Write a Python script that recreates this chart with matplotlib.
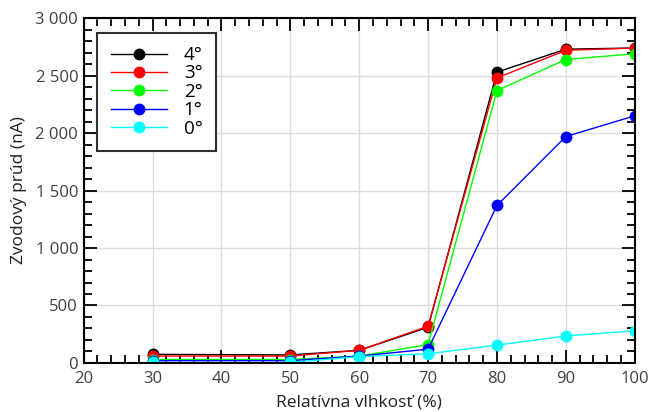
import matplotlib
matplotlib.use("Agg")
import matplotlib.pyplot as plt
from matplotlib.ticker import MultipleLocator, FuncFormatter

plt.rcParams["font.family"] = ["Open Sans", "DejaVu Sans"]

# Relative humidity (%)
humidity = [30, 50, 60, 70, 80, 90, 100]

# Leakage current (nA) per angle
angle_4 = [75, 70, 110, 310, 2530, 2730, 2740]
angle_3 = [60, 60, 110, 320, 2480, 2720, 2740]
angle_2 = [30, 30, 60, 160, 2370, 2640, 2690]
angle_1 = [20, 20, 60, 120, 1370, 1970, 2150]
angle_0 = [5, 5, 55, 80, 155, 235, 280]

series = [
    ("4°", angle_4, "black"),
    ("3°", angle_3, "red"),
    ("2°", angle_2, "#00ff00"),
    ("1°", angle_1, "blue"),
    ("0°", angle_0, "cyan"),
]

fig, ax = plt.subplots(figsize=(6.49, 4.12), dpi=100)

for label, values, color in series:
    ax.plot(humidity, values, color=color, marker="o", markersize=7.5,
            linewidth=1, label=label)

ax.set_xlim(20, 100)
ax.set_ylim(0, 3000)
ax.xaxis.set_major_locator(MultipleLocator(10))
ax.xaxis.set_minor_locator(MultipleLocator(2))
ax.yaxis.set_major_locator(MultipleLocator(500))
ax.yaxis.set_minor_locator(MultipleLocator(100))
ax.yaxis.set_major_formatter(FuncFormatter(lambda v, p: f"{int(v):,}".replace(",", " ")))

ax.tick_params(which="both", direction="in", top=True, right=True,
               labelsize=12, labelcolor="#404040", width=1.3)
ax.tick_params(which="major", length=9.5)
ax.tick_params(which="minor", length=5.5)
ax.tick_params(axis="x", pad=6)
ax.tick_params(axis="y", pad=4)
ax.grid(True, which="major", color="#dcdcdc", linewidth=1)
ax.set_axisbelow(True)
for s in ax.spines.values():
    s.set_linewidth(1.5)

ax.set_xlabel("Relatívna vlhkosť (%)", fontsize=12.5, color="#202020", labelpad=5)
ax.set_ylabel("Zvodový prúd (nA)", fontsize=12.5, color="#202020", labelpad=6)

leg = ax.legend(loc="upper left", fontsize=13.5, fancybox=False, edgecolor="#303030",
                framealpha=1, handlelength=3.0, borderpad=0.7, labelspacing=0.02,
                handletextpad=0.9, borderaxespad=0,
                bbox_to_anchor=(0.025, 0.957))
leg.get_frame().set_linewidth(1.5)

fig.subplots_adjust(left=0.129, right=0.978, bottom=0.119, top=0.956)
fig.savefig("out.png", dpi=100)
